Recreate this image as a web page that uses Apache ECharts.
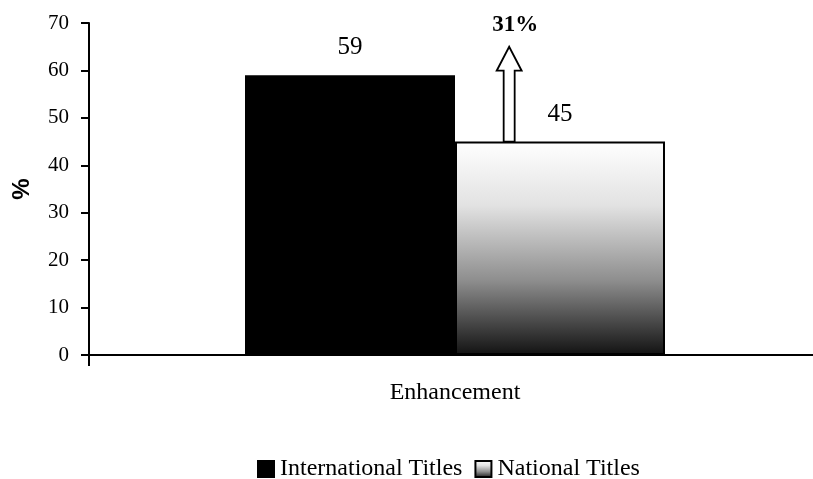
<!DOCTYPE html>
<html>
<head>
<meta charset="utf-8">
<script src="https://cdn.jsdelivr.net/npm/echarts@6/dist/echarts.min.js"></script>
<style>
  html, body { margin: 0; padding: 0; background: #fff; }
  #chart { width: 813px; height: 479px; }
</style>
</head>
<body>
<div id="chart"></div>
<script>
// Chart data
const categories = ['Enhancement'];
const seriesNames = ['International Titles', 'National Titles'];
const internationalValues = [59];
const nationalValues = [45];
const yTicks = { min: 0, max: 70, interval: 10 };
// Growth arrow: from the national value up to the arrow tip, with its label
const arrowFrom = [45];
const arrowTo = [65];
const arrowLabel = ['31%'];

const serif = '"Liberation Serif", "Times New Roman", serif';

const chart = echarts.init(document.getElementById('chart'));

const arrowData = categories.map((c, i) => [i, arrowFrom[i], arrowTo[i]]);

chart.setOption({
  animation: false,
  grid: { left: 89, width: 732, top: 23, bottom: 124, containLabel: false, outerBoundsMode: 'none' },
  legend: {
    data: seriesNames,
    left: 257,
    top: 457,
    padding: 0,
    icon: 'rect',
    itemWidth: 16,
    itemHeight: 16,
    itemGap: 12,
    textStyle: { fontFamily: serif, fontSize: 24, color: '#000', padding: [0, 0, 0, 1] }
  },
  xAxis: {
    type: 'category',
    data: categories,
    axisLine: { lineStyle: { color: '#000', width: 2 } },
    axisTick: { show: true, length: 11, lineStyle: { color: '#000', width: 2 } },
    axisLabel: { margin: 26, fontFamily: serif, fontSize: 24, color: '#000' }
  },
  yAxis: {
    type: 'value',
    min: yTicks.min,
    max: yTicks.max,
    interval: yTicks.interval,
    name: '%',
    nameLocation: 'middle',
    nameGap: 55,
    nameRotate: 90,
    nameTextStyle: { fontFamily: '"Liberation Sans", Arial, sans-serif', fontWeight: 'bold', fontSize: 24, color: '#000' },
    splitLine: { show: false },
    axisLine: { show: true, lineStyle: { color: '#000', width: 2 } },
    axisTick: { show: true, length: 8, lineStyle: { color: '#000', width: 2 } },
    axisLabel: { margin: 20, fontFamily: serif, fontSize: 21, color: '#000' }
  },
  series: [
    {
      name: seriesNames[0],
      type: 'bar',
      data: internationalValues,
      barWidth: 210,
      barGap: '0%',
      itemStyle: { color: '#000', borderColor: '#000', borderWidth: 1.5 },
      label: { show: true, position: 'top', distance: 15, fontFamily: serif, fontSize: 25, color: '#000' }
    },
    {
      name: seriesNames[1],
      type: 'bar',
      data: nationalValues,
      barWidth: 210,
      barGap: '0%',
      itemStyle: {
        color: new echarts.graphic.LinearGradient(0, 0, 0, 1, [
          { offset: 0, color: '#ffffff' },
          { offset: 0.3, color: '#e2e2e2' },
          { offset: 0.65, color: '#8e8e8e' },
          { offset: 1, color: '#121212' }
        ]),
        borderColor: '#000',
        borderWidth: 2
      },
      label: { show: true, position: 'top', distance: 15, fontFamily: serif, fontSize: 25, color: '#000' }
    },
    {
      type: 'custom',
      silent: true,
      z: 5,
      data: arrowData,
      renderItem: function (params, api) {
        const base = api.coord([api.value(0), api.value(1)]);
        const tip = api.coord([api.value(0), api.value(2)]);
        const band = api.size([1, 0])[0];
        const x = base[0] + band * 0.074;
        const shaftHalf = 5.5, headHalf = 12.5, headLen = 24;
        const yb = base[1], yt = tip[1], yh = yt + headLen;
        return {
          type: 'group',
          children: [
            {
              type: 'polygon',
              shape: {
                points: [
                  [x - shaftHalf, yb], [x - shaftHalf, yh], [x - headHalf, yh],
                  [x, yt], [x + headHalf, yh], [x + shaftHalf, yh], [x + shaftHalf, yb]
                ]
              },
              style: { fill: '#fff', stroke: '#000', lineWidth: 1.8 }
            },
            {
              type: 'text',
              x: x + 6,
              y: yt - 22,
              style: {
                text: arrowLabel[params.dataIndex],
                fontFamily: serif,
                fontWeight: 'bold',
                fontSize: 23,
                fill: '#000',
                align: 'center',
                verticalAlign: 'middle'
              }
            }
          ]
        };
      }
    }
  ]
});
</script>
</body>
</html>
